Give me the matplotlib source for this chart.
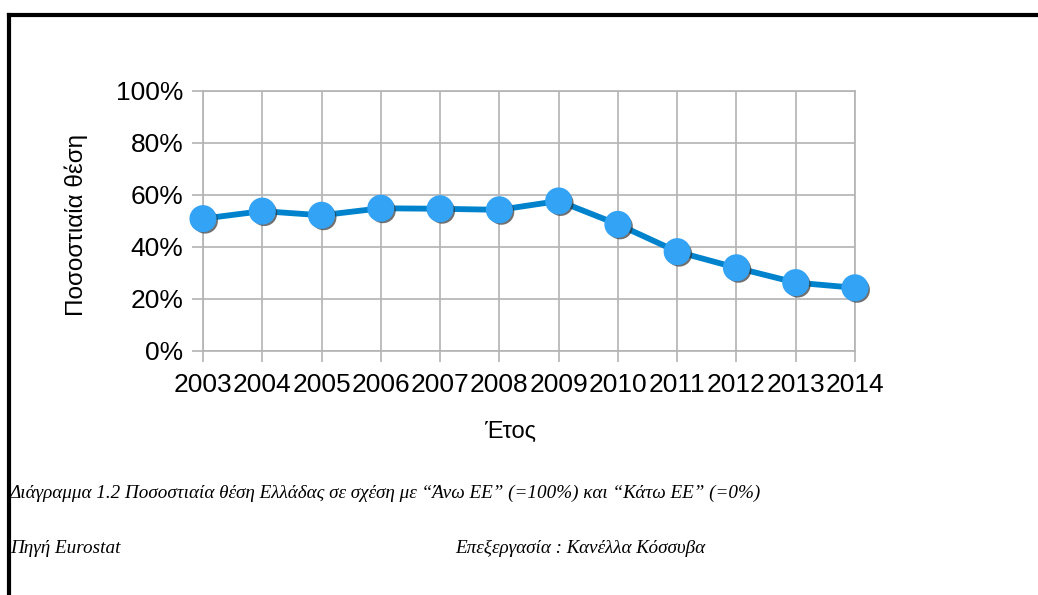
import matplotlib
matplotlib.use("Agg")
import matplotlib.pyplot as plt
import matplotlib.patheffects as pe
from matplotlib.ticker import PercentFormatter

years = [2003, 2004, 2005, 2006, 2007, 2008, 2009, 2010, 2011, 2012, 2013, 2014]
position = [50.9, 53.8, 52.2, 54.9, 54.7, 54.3, 57.7, 48.7, 38.2, 32.0, 26.3, 24.3]
y_ticks = [0, 20, 40, 60, 80, 100]

caption = "Διάγραμμα 1.2 Ποσοστιαία θέση Ελλάδας σε σχέση με “Άνω ΕΕ” (=100%) και “Κάτω ΕΕ” (=0%)"
source = "Πηγή Eurostat"
editor = "Επεξεργασία : Κανέλλα Κόσσυβα"

plt.rcParams['font.family'] = ['Liberation Sans', 'DejaVu Sans']
grid_col = '#b3b3b3'

fig = plt.figure(figsize=(10.38, 5.95), dpi=100)
ax = fig.add_axes([203/1038, 1-351/595, 652/1038, 260/595])

ax.plot(years, position, color='#0083cc', lw=4.2, zorder=3, clip_on=False)
ax.plot(years, position, ls='none', marker='o', ms=18.5, mfc='#33a3f5', mec='#33a3f5',
        zorder=4, clip_on=False,
        path_effects=[pe.SimplePatchShadow(offset=(1.5, -1.5), shadow_rgbFace='#333333', alpha=0.7),
                      pe.Normal()])

ax.set_xlim(2003, 2014)
ax.set_ylim(0, 100)
ax.set_xticks(years)
ax.set_xticklabels([str(y) for y in years])
ax.set_yticks(y_ticks)
ax.yaxis.set_major_formatter(PercentFormatter(decimals=0))
ax.grid(True, color=grid_col, lw=1.2)
ax.set_axisbelow(True)
for s in ax.spines.values():
    s.set_color(grid_col)
    s.set_linewidth(1.2)
ax.tick_params(axis='both', colors=grid_col, labelcolor='black', labelsize=19, length=8, width=1.2)
ax.tick_params(axis='x', pad=8)
ax.tick_params(axis='y', pad=6)

ax.set_ylabel("Ποσοστιαία θέση", fontsize=17.5)
ax.yaxis.set_label_coords(-0.176, 0.485)
ax.set_xlabel("Έτος", fontsize=17)
ax.xaxis.set_label_coords(0.471, -0.269)

serif = ['Liberation Serif', 'DejaVu Serif']
fig.text(10/1038, 1-498/595, caption, fontsize=13.8, style='italic', family=serif, va='baseline')
fig.text(10/1038, 1-553/595, source, fontsize=13.8, style='italic', family=serif, va='baseline')
fig.text(455/1038, 1-553/595, editor, fontsize=13.8, style='italic', family=serif, va='baseline')

# page frame (top and left edges)
fig.add_artist(plt.Line2D([8.5/1038, 1], [1-14.5/595, 1-14.5/595], color='black', lw=3))
fig.add_artist(plt.Line2D([8.5/1038, 8.5/1038], [0, 1-14.5/595], color='black', lw=3))

fig.savefig("out.png", dpi=100)
